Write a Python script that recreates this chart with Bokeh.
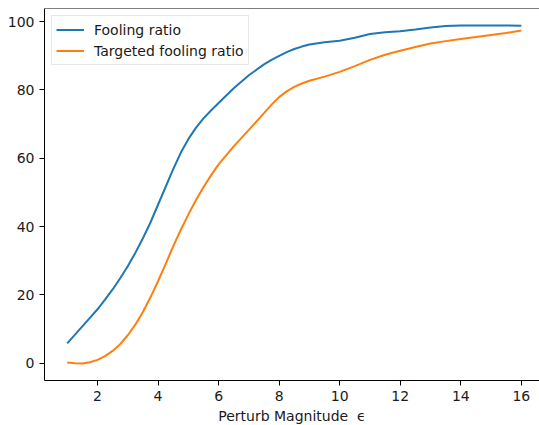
from bokeh.plotting import figure
from bokeh.models import Range1d, Span, Legend, LegendItem, FixedTicker
from bokeh.embed import file_html
from bokeh.resources import INLINE

# Data
eps = [1, 1.25, 1.5, 1.75, 2, 2.25, 2.5, 2.75, 3, 3.25, 3.5, 3.75, 4, 4.25, 4.5,
       4.75, 5, 5.25, 5.5, 5.75, 6, 6.5, 7, 7.5, 7.75, 8, 8.25, 8.5, 8.75,
       9, 9.5, 10, 10.5, 11, 11.5, 12, 12.5, 13, 13.5, 14, 14.5, 15, 15.5, 16]
fooling = [5.8, 8.3, 10.8, 13.3, 15.8, 18.6, 21.6, 24.9, 28.4, 32.3, 36.6, 41.2,
           46.4, 51.6, 56.8, 61.6, 65.6, 68.9, 71.7, 74.0, 76.2, 80.5, 84.3,
           87.5, 88.8, 90.0, 91.1, 92.0, 92.7, 93.3, 94.0, 94.4, 95.3, 96.4,
           96.9, 97.2, 97.7, 98.3, 98.7, 98.9, 98.9, 98.9, 98.9, 98.8]
targeted = [0.2, 0.0, -0.1, 0.3, 1.0, 2.1, 3.6, 5.6, 8.2, 11.3, 15.0, 19.3,
            24.0, 29.0, 34.2, 39.0, 43.5, 47.7, 51.5, 55.0, 58.2, 63.5, 68.3,
            73.2, 75.7, 77.9, 79.6, 80.9, 81.9, 82.7, 83.9, 85.3, 87.0, 88.8,
            90.3, 91.5, 92.6, 93.6, 94.3, 94.9, 95.5, 96.1, 96.7, 97.4]
x_ticks = [2, 4, 6, 8, 10, 12, 14, 16]
y_ticks = [0, 20, 40, 60, 80, 100]
series_labels = ["Fooling ratio", "Targeted fooling ratio"]

FONT = "DejaVu Sans"

xspan = max(eps) - min(eps)
ymin = min(fooling + targeted)
ymax = max(fooling + targeted)
yspan = ymax - ymin

p = figure(frame_width=495, frame_height=372,
           output_backend="svg", toolbar_location=None,
           x_range=Range1d(min(eps) - 0.05 * xspan, max(eps) + 0.04 * xspan),
           y_range=Range1d(ymin - 0.05 * yspan, ymax + 0.05 * yspan),
           min_border_left=44, min_border_right=0, min_border_top=8,
           min_border_bottom=45)

p.outline_line_color = None
p.xgrid.visible = False
p.ygrid.visible = False
p.background_fill_color = "white"
p.border_fill_color = "white"

r1 = p.line(eps, fooling, line_color="#1f77b4", line_width=2)
r2 = p.line(eps, targeted, line_color="#ff7f0e", line_width=2)

# top spine
p.add_layout(Span(location=ymax + 0.05 * yspan, dimension="width",
                  line_color="black", line_width=1))

for ax in (p.xaxis[0], p.yaxis[0]):
    ax.axis_line_color = "black"
    ax.axis_line_width = 1
    ax.major_tick_line_color = "black"
    ax.major_tick_in = 0
    ax.major_tick_out = 5
    ax.minor_tick_line_color = None
    ax.major_label_text_font = FONT
    ax.major_label_text_font_size = "14px"
    ax.major_label_text_color = "#1a1a1a"
    ax.major_label_standoff = 5

p.xaxis[0].ticker = FixedTicker(ticks=x_ticks)
p.yaxis[0].ticker = FixedTicker(ticks=y_ticks)
p.xaxis[0].axis_label = "Perturb Magnitude \u00a0\u03f5"
p.xaxis[0].axis_label_text_font = FONT
p.xaxis[0].axis_label_text_font_size = "14px"
p.xaxis[0].axis_label_text_font_style = "normal"
p.xaxis[0].axis_label_text_color = "#1a1a1a"
p.xaxis[0].axis_label_standoff = 4

legend = Legend(items=[LegendItem(label=series_labels[0], renderers=[r1]),
                       LegendItem(label=series_labels[1], renderers=[r2])],
                location="top_left", margin=7, padding=4, spacing=2,
                label_text_font=FONT, label_text_font_size="14px",
                label_text_color="#1a1a1a",
                label_height=19, glyph_height=19, glyph_width=28,
                label_standoff=10,
                border_line_color="#d0d0d0", border_line_width=1,
                background_fill_color="white", background_fill_alpha=0.8)
p.add_layout(legend)

open("out.html", "w").write(file_html(p, INLINE))
